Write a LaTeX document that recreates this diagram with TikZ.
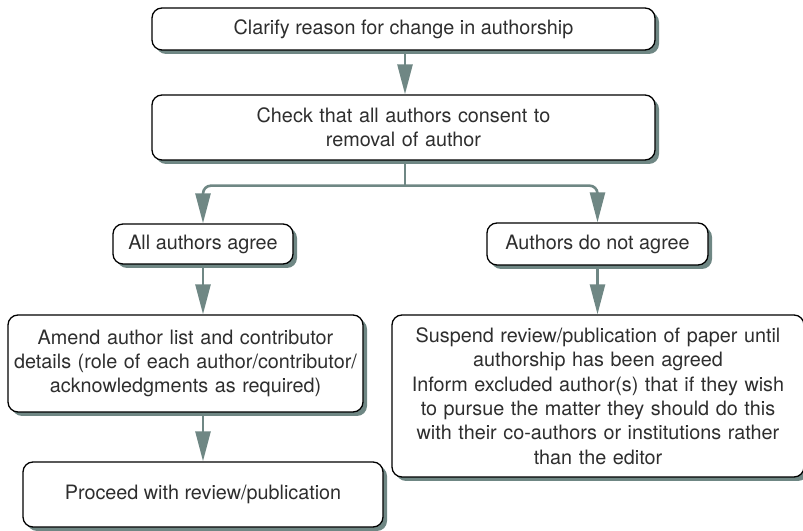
\documentclass[tikz,border=0pt]{standalone}
\usepackage{fontspec}
\setmainfont{TeX Gyre Heros}
\usepackage{tikz}
\usetikzlibrary{calc,positioning,arrows.meta,shadows}

\definecolor{linegray}{HTML}{6F8784}
\definecolor{textgray}{HTML}{2E2E2E}

\begin{document}
\begin{tikzpicture}[x=1pt,y=1pt,
  box/.style={draw=black,line width=1.3pt,rounded corners=10pt,fill=white,
    align=center,inner sep=0pt,text=textgray,
    font=\fontsize{19.8}{24.4}\selectfont,
    drop shadow={shadow xshift=4pt,shadow yshift=-4pt,fill=linegray,opacity=1}},
  link/.style={draw=linegray,line width=2.6pt,-{Triangle[width=15pt,length=30pt]}}]
  \useasboundingbox (0,0) rectangle (803,530);
  \node[box,minimum width=503pt,minimum height=42pt] (clarify) at (403.5,501) {Clarify reason for change in authorship};
  \node[box,minimum width=503pt,minimum height=65pt,text width=490pt] (check) at (403.5,402.5) {Check that all authors consent to\\removal of author};
  \node[box,minimum width=180pt,minimum height=40pt] (agree) at (203,286) {All authors agree};
  \node[box,minimum width=221pt,minimum height=42pt] (disagree) at (597.5,286) {Authors do not agree};
  \node[box,minimum width=355pt,minimum height=97pt,text width=350pt] (amend) at (185.5,166.5)
    {Amend author list and contributor\\details (role of each author/contributor/\\acknowledgments as required)};
  \node[box,minimum width=360pt,minimum height=65pt] (proceed) at (203,35.5) {Proceed with review/publication};
  \node[box,minimum width=412pt,minimum height=162pt,text width=405pt] (suspend) at (598,134)
    {Suspend review/publication of paper until\\authorship has been agreed\\Inform excluded author(s) that if they wish\\to pursue the matter they should do this\\with their co-authors or institutions rather\\than the editor};
  \coordinate (split) at ($(check.south)+(1.5,-25)$);
  \draw[link] (clarify.south -| 405,0) -- (check.north -| 405,0);
  \draw[draw=linegray,line width=2.6pt] (check.south -| split) -- (split);
  \draw[link,rounded corners=8pt] (split) -| (agree.north);
  \draw[link,rounded corners=8pt] (split) -| (disagree.north);
  \draw[link] (agree.south) -- (agree.south |- amend.north);
  \draw[link] (agree.south |- amend.south) -- (agree.south |- proceed.north);
  \draw[link] (disagree.south) -- (disagree.south |- suspend.north);
\end{tikzpicture}
\end{document}
